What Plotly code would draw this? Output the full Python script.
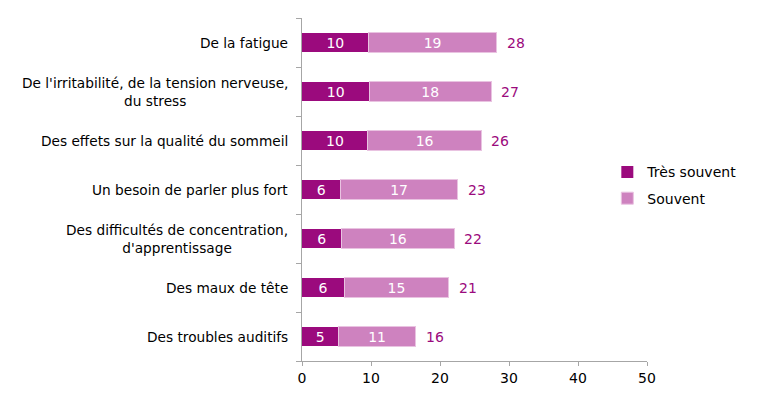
import plotly.graph_objects as go

categories = [
    "De la fatigue",
    "De l'irritabilité, de la tension nerveuse,<br>du stress",
    "Des effets sur la qualité du sommeil",
    "Un besoin de parler plus fort",
    "Des difficultés de concentration,<br>d'apprentissage",
    "Des maux de tête",
    "Des troubles auditifs",
]
tres_souvent = [9.65, 9.75, 9.55, 5.55, 5.7, 6.1, 5.3]
souvent = [18.55, 17.65, 16.45, 17.05, 16.4, 15.2, 11.15]
tres_labels = [10, 10, 10, 6, 6, 6, 5]
souvent_labels = [19, 18, 16, 17, 16, 15, 11]
total_labels = [28, 27, 26, 23, 22, 21, 16]
x_ticks = [0, 10, 20, 30, 40, 50]

DARK = "#9B0A7D"
LIGHT = "#CE82BF"
FONT = "DejaVu Sans"

ids = list(range(len(categories)))
totals = [a + b for a, b in zip(tres_souvent, souvent)]

fig = go.Figure()
fig.add_trace(go.Bar(
    y=ids, x=tres_souvent, orientation="h", name="Très souvent",
    legendgroup="a",
    marker=dict(color=DARK, line=dict(width=0)),
    text=[str(v) for v in tres_labels], textposition="inside",
    insidetextanchor="middle", textangle=0, constraintext="none",
    textfont=dict(color="white", size=14, family=FONT),
))
fig.add_trace(go.Bar(
    y=ids, x=souvent, orientation="h", name="Souvent",
    legendgroup="b",
    marker=dict(color=LIGHT, line=dict(width=1, color="#E9C3E1")),
    text=[str(v) for v in souvent_labels], textposition="inside",
    insidetextanchor="middle", textangle=0, constraintext="none",
    textfont=dict(color="white", size=14, family=FONT),
))

for i, (t, lab) in enumerate(zip(totals, total_labels)):
    fig.add_annotation(x=t, y=ids[i], xref="x", yref="y", text=str(lab),
                       showarrow=False, xanchor="left", xshift=8,
                       font=dict(color=DARK, size=14, family=FONT))

for i, c in enumerate(categories):
    fig.add_annotation(x=0, y=ids[i], xref="paper", yref="y", text=c,
                       showarrow=False, xanchor="right", xshift=-12,
                       align="center",
                       font=dict(color="black", size=13.7, family=FONT))

fig.update_layout(
    width=757, height=400,
    barmode="stack", bargap=0.61,
    plot_bgcolor="white", paper_bgcolor="white",
    margin=dict(l=302, r=110, t=18, b=39, autoexpand=False),
    font=dict(family=FONT, size=13, color="black"),
    legend=dict(x=0.885, y=0.512, xanchor="left", yanchor="middle",
                traceorder="grouped", font=dict(size=14, family=FONT),
                itemwidth=30, tracegroupgap=5, bgcolor="rgba(0,0,0,0)"),
    showlegend=True,
)
fig.update_yaxes(
    range=[len(categories) - 0.5, -0.5], tickmode="array",
    tickvals=[i - 0.5 for i in range(len(categories) + 1)],
    showticklabels=False,
    showline=True, linecolor="#A6A6A6", linewidth=1,
    ticks="outside", ticklen=5, tickcolor="#A6A6A6",
    showgrid=False, zeroline=False,
)
fig.update_xaxes(
    range=[0, 50], tickvals=x_ticks, showline=True, linecolor="#A6A6A6",
    linewidth=1, ticks="outside", ticklen=4, tickcolor="#A6A6A6",
    showgrid=False, zeroline=False,
    tickfont=dict(size=14, family=FONT, color="black"),
)

fig.write_html("out.html")
